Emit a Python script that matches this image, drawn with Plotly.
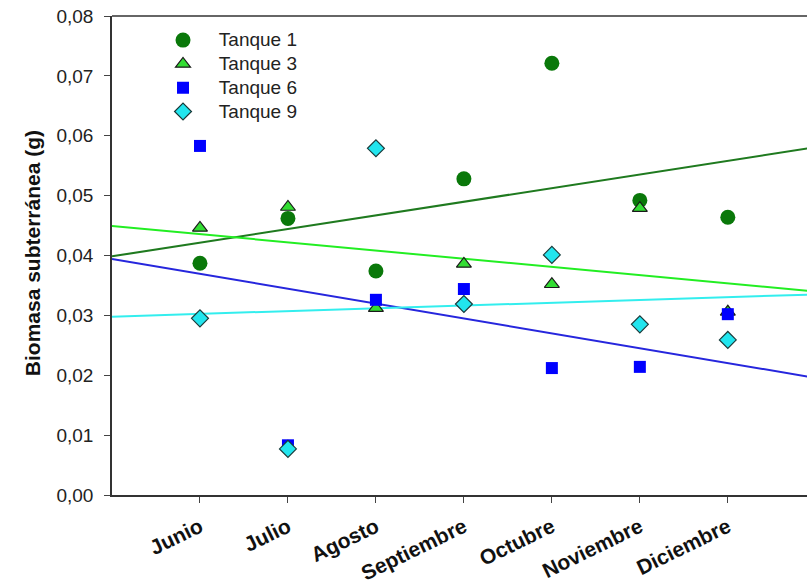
import numpy as np
import plotly.graph_objects as go

meses = ["Junio", "Julio", "Agosto", "Septiembre", "Octubre", "Noviembre", "Diciembre"]
tanque1 = [0.0387, 0.0462, 0.0374, 0.0528, 0.0721, 0.0492, 0.0464]
tanque3 = [0.0446, 0.0481, 0.0312, 0.0386, 0.0352, 0.0479, 0.0306]
tanque6 = [0.0583, 0.0083, 0.0326, 0.0344, 0.0212, 0.0214, 0.0302]
tanque9 = [0.0295, 0.0077, 0.0579, 0.0319, 0.0401, 0.0285, 0.0259]
y_ticks = [0.00, 0.01, 0.02, 0.03, 0.04, 0.05, 0.06, 0.07, 0.08]

xi = np.arange(1, len(meses) + 1)
fig = go.Figure()

series = [
    ("Tanque 1", tanque1, dict(symbol="circle", size=15, color="#0a780a", line=dict(width=0)), "#1f7a1f"),
    ("Tanque 3", tanque3, dict(symbol="triangle-up", size=13, color="#33dd33", line=dict(width=1.2, color="#1a1a1a")), "#22ee22"),
    ("Tanque 6", tanque6, dict(symbol="square", size=12, color="#0000ff", line=dict(width=0)), "#2626dd"),
    ("Tanque 9", tanque9, dict(symbol="diamond", size=13, color="#22e5ee", line=dict(width=1.2, color="#1a3a3a")), "#33eeee"),
]

# regression lines first (drawn under markers)
xl = np.array([0.0, 8.0])
for name, vals, mk, lc in series:
    b, a = np.polyfit(xi, vals, 1)
    fig.add_trace(go.Scatter(x=xl, y=a + b * xl, mode="lines", line=dict(color=lc, width=2),
                             showlegend=False, hoverinfo="skip"))

pad = "\u00a0\u00a0\u00a0"
for name, vals, mk, lc in series:
    fig.add_trace(go.Scatter(x=xi, y=vals, mode="markers",
                             name='<span style="font-size:19px">%s%s</span>' % (pad, name),
                             marker=mk))

fig.update_layout(
    width=807, height=585,
    margin=dict(l=112, r=0, t=16, b=90, autoexpand=False),
    plot_bgcolor="white", paper_bgcolor="white",
    separators=",.",
    font=dict(family="Arial, Liberation Sans, sans-serif", color="#222"),
    showlegend=True,
    legend=dict(x=0.0734, y=0.985, xanchor="left", yanchor="top",
                font=dict(size=16, color="#222"), bgcolor="rgba(0,0,0,0)",
                itemsizing="trace", tracegroupgap=0),
    xaxis=dict(range=[0, 7.9], tickmode="array", tickvals=list(xi),
               ticktext=["<b>%s</b>" % m for m in meses], automargin=False,
               tickangle=-26, ticks="outside", ticklen=6, tickwidth=1.2, tickcolor="#444",
               showline=True, linecolor="#333", linewidth=1.5, mirror=False,
               showgrid=False, zeroline=False, ticklabelstandoff=4,
               tickfont=dict(size=21, color="#111")),
    yaxis=dict(range=[0, 0.08], tickmode="array", tickvals=y_ticks, tickformat=".2f",
               automargin=False,
               ticks="outside", ticklen=6, tickwidth=1.2, tickcolor="#444",
               showline=True, linecolor="#333", linewidth=1.5,
               showgrid=False, zeroline=False, ticklabelstandoff=7,
               tickfont=dict(size=19, color="#222")),
)

# top border line
fig.add_shape(type="line", xref="paper", yref="paper", x0=0, x1=1, y0=1, y1=1,
              line=dict(color="#333", width=1.5))

fig.add_annotation(text="<b>Biomasa subterránea (g)</b>", xref="paper", yref="paper",
                   x=-0.115, y=0.505, xanchor="center", yanchor="middle", textangle=-90,
                   showarrow=False, font=dict(size=21, color="#111"))

fig.write_html("out.html")
